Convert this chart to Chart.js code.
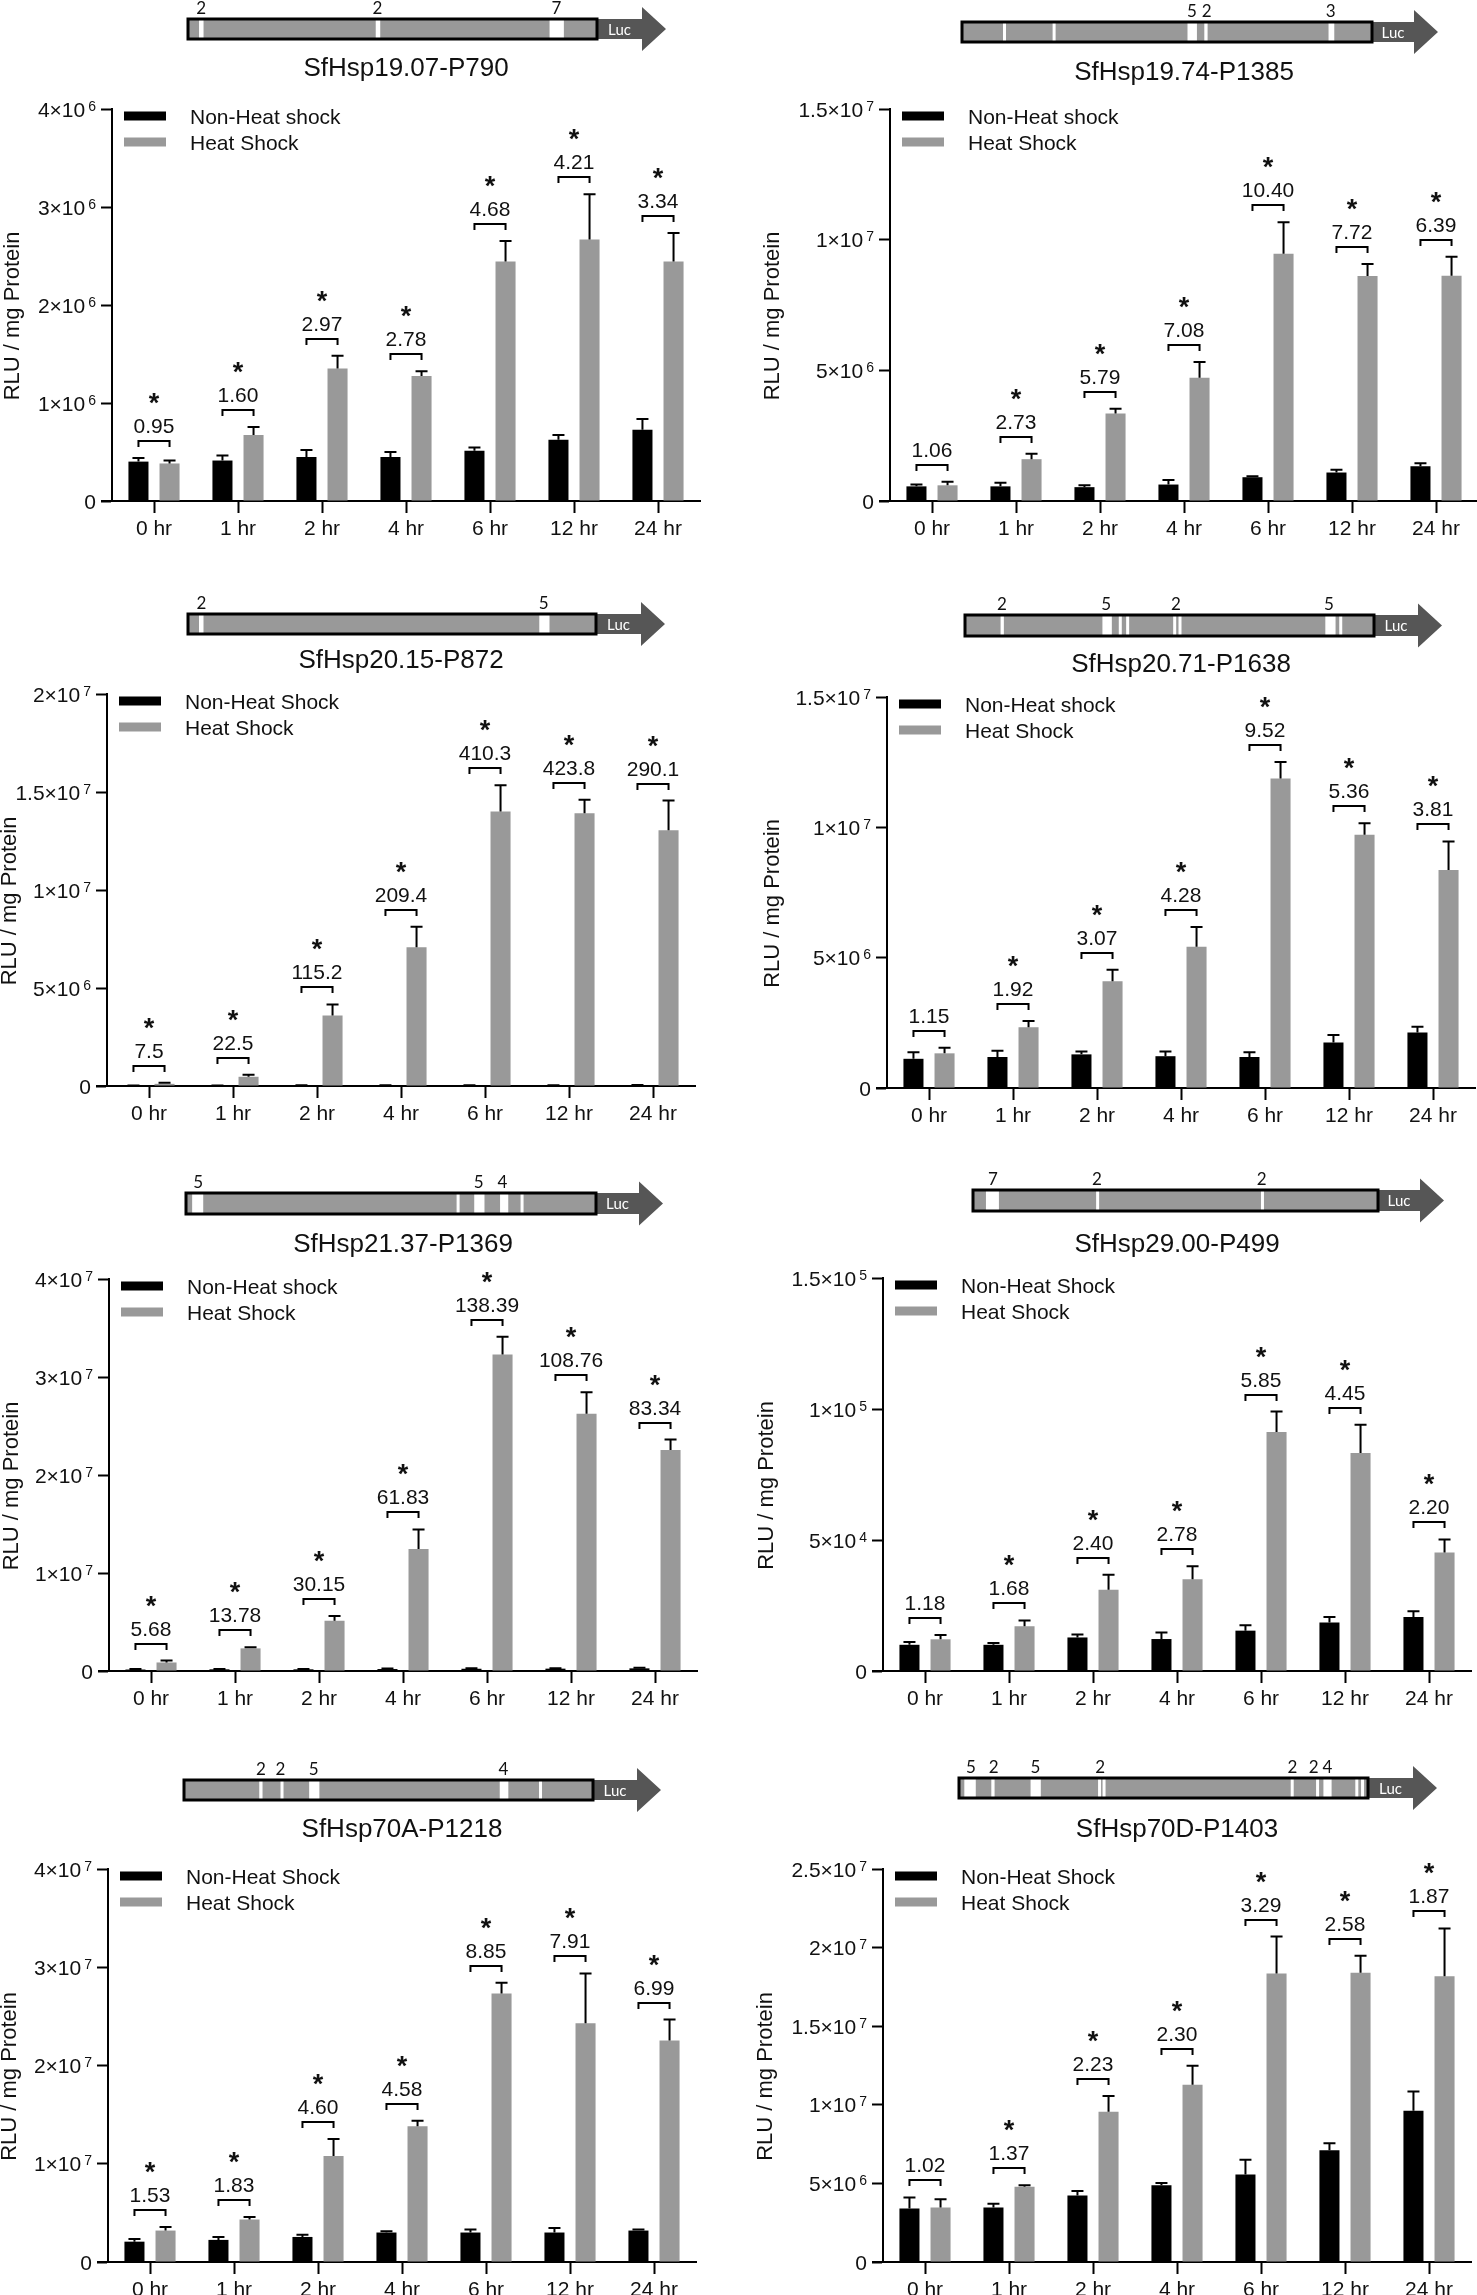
<!DOCTYPE html>
<html><head><meta charset="utf-8">
<script src="https://cdn.jsdelivr.net/npm/chart.js@4.4.1/dist/chart.umd.min.js"></script>
<style>
html,body{margin:0;padding:0;width:1477px;height:2295px;overflow:hidden;background:#fff;position:relative;}
canvas{position:absolute;}
</style></head><body>
<script>
// ---------------- DATA ----------------
const categories = ['0 hr','1 hr','2 hr','4 hr','6 hr','12 hr','24 hr'];
const yAxisTitle = 'RLU / mg Protein';
const seriesColors = ['#000000','#999999'];

// Panel 1
const p1Title = 'SfHsp19.07-P790';
const p1Legend = ['Non-Heat shock','Heat Shock'];
const p1Non = [402e3,413e3,450e3,450e3,513e3,625e3,726e3];
const p1NonErr = [38e3,52e3,70e3,50e3,34e3,48e3,111e3];
const p1Hs = [383e3,673e3,1351e3,1276e3,2445e3,2668e3,2445e3];
const p1HsErr = [30e3,82e3,130e3,49e3,208e3,461e3,290e3];
const p1Fold = ['0.95','1.60','2.97','2.78','4.68','4.21','3.34'];
const p1Sig = [1,1,1,1,1,1,1];
const p1Ticks = ['0','1×10^6','2×10^6','3×10^6','4×10^6'];
const p1Max = 4e6, p1Step = 1e6;
const p1Sites = [[0.027,0.038],[0.459,0.470],[0.884,0.919]];
const p1SiteLabels = [[0.032,'2'],[0.463,'2'],[0.901,'7']];

// Panel 2
const p2Title = 'SfHsp19.74-P1385';
const p2Legend = ['Non-Heat shock','Heat Shock'];
const p2Non = [0.56e6,0.56e6,0.53e6,0.63e6,0.91e6,1.09e6,1.33e6];
const p2NonErr = [0.07e6,0.14e6,0.07e6,0.17e6,0.04e6,0.11e6,0.11e6];
const p2Hs = [0.60e6,1.60e6,3.35e6,4.72e6,9.46e6,8.61e6,8.62e6];
const p2HsErr = [0.14e6,0.21e6,0.18e6,0.60e6,1.21e6,0.46e6,0.73e6];
const p2Fold = ['1.06','2.73','5.79','7.08','10.40','7.72','6.39'];
const p2Sig = [0,1,1,1,1,1,1];
const p2Ticks = ['0','5×10^6','1×10^7','1.5×10^7'];
const p2Max = 1.5e7, p2Step = 5e6;
const p2Sites = [[0.100,0.105],[0.221,0.226],[0.550,0.573],[0.591,0.599],[0.894,0.908]];
const p2SiteLabels = [[0.561,'5'],[0.597,'2'],[0.899,'3']];

// Panel 3
const p3Title = 'SfHsp20.15-P872';
const p3Legend = ['Non-Heat Shock','Heat Shock'];
const p3Non = [0.015e6,0.02e6,0.03e6,0.034e6,0.034e6,0.033e6,0.045e6];
const p3NonErr = [0.005e6,0.005e6,0.01e6,0.01e6,0.01e6,0.01e6,0.01e6];
const p3Hs = [0.11e6,0.47e6,3.60e6,7.08e6,14.0e6,13.92e6,13.05e6];
const p3HsErr = [0.06e6,0.11e6,0.56e6,1.05e6,1.34e6,0.68e6,1.51e6];
const p3Fold = ['7.5','22.5','115.2','209.4','410.3','423.8','290.1'];
const p3Sig = [1,1,1,1,1,1,1];
const p3Ticks = ['0','5×10^6','1×10^7','1.5×10^7','2×10^7'];
const p3Max = 2e7, p3Step = 5e6;
const p3Sites = [[0.027,0.038],[0.861,0.886]];
const p3SiteLabels = [[0.033,'2'],[0.872,'5']];

// Panel 4
const p4Title = 'SfHsp20.71-P1638';
const p4Legend = ['Non-Heat shock','Heat Shock'];
const p4Non = [1.12e6,1.19e6,1.29e6,1.22e6,1.19e6,1.75e6,2.13e6];
const p4NonErr = [0.25e6,0.24e6,0.11e6,0.18e6,0.18e6,0.28e6,0.22e6];
const p4Hs = [1.33e6,2.33e6,4.10e6,5.42e6,11.87e6,9.72e6,8.36e6];
const p4HsErr = [0.21e6,0.24e6,0.44e6,0.76e6,0.64e6,0.44e6,1.10e6];
const p4Fold = ['1.15','1.92','3.07','4.28','9.52','5.36','3.81'];
const p4Sig = [0,1,1,1,1,1,1];
const p4Ticks = ['0','5×10^6','1×10^7','1.5×10^7'];
const p4Max = 1.5e7, p4Step = 5e6;
const p4Sites = [[0.087,0.095],[0.336,0.359],[0.376,0.381],[0.394,0.400],[0.509,0.514],[0.522,0.527],[0.881,0.906],[0.915,0.921]];
const p4SiteLabels = [[0.090,'2'],[0.345,'5'],[0.516,'2'],[0.890,'5']];

// Panel 5
const p5Title = 'SfHsp21.37-P1369';
const p5Legend = ['Non-Heat shock','Heat Shock'];
const p5Non = [0.15e6,0.17e6,0.17e6,0.20e6,0.23e6,0.24e6,0.27e6];
const p5NonErr = [0.05e6,0.03e6,0.03e6,0.05e6,0.05e6,0.05e6,0.05e6];
const p5Hs = [0.87e6,2.31e6,5.12e6,12.44e6,32.3e6,26.24e6,22.56e6];
const p5HsErr = [0.19e6,0.12e6,0.49e6,2.01e6,1.8e6,2.2e6,1.06e6];
const p5Fold = ['5.68','13.78','30.15','61.83','138.39','108.76','83.34'];
const p5Sig = [1,1,1,1,1,1,1];
const p5Ticks = ['0','1×10^7','2×10^7','3×10^7','4×10^7'];
const p5Max = 4e7, p5Step = 1e7;
const p5Sites = [[0.015,0.042],[0.660,0.665],[0.703,0.728],[0.766,0.786],[0.816,0.821]];
const p5SiteLabels = [[0.030,'5'],[0.714,'5'],[0.772,'4']];

// Panel 6
const p6Title = 'SfHsp29.00-P499';
const p6Legend = ['Non-Heat Shock','Heat Shock'];
const p6Non = [1.0e4,1.0e4,1.28e4,1.22e4,1.54e4,1.85e4,2.06e4];
const p6NonErr = [0.11e4,0.07e4,0.11e4,0.25e4,0.21e4,0.21e4,0.22e4];
const p6Hs = [1.21e4,1.71e4,3.10e4,3.50e4,9.12e4,8.32e4,4.52e4];
const p6HsErr = [0.16e4,0.22e4,0.57e4,0.50e4,0.78e4,1.08e4,0.50e4];
const p6Fold = ['1.18','1.68','2.40','2.78','5.85','4.45','2.20'];
const p6Sig = [0,1,1,1,1,1,1];
const p6Ticks = ['0','5×10^4','1×10^5','1.5×10^5'];
const p6Max = 1.5e5, p6Step = 5e4;
const p6Sites = [[0.032,0.064],[0.304,0.310],[0.711,0.717]];
const p6SiteLabels = [[0.049,'7'],[0.306,'2'],[0.713,'2']];

// Panel 7
const p7Title = 'SfHsp70A-P1218';
const p7Legend = ['Non-Heat Shock','Heat Shock'];
const p7Non = [2.07e6,2.25e6,2.55e6,3.0e6,3.0e6,3.0e6,3.2e6];
const p7NonErr = [0.26e6,0.3e6,0.23e6,0.12e6,0.3e6,0.45e6,0.1e6];
const p7Hs = [3.2e6,4.32e6,10.78e6,13.82e6,27.34e6,24.3e6,22.54e6];
const p7HsErr = [0.37e6,0.26e6,1.73e6,0.56e6,1.09e6,5.07e6,2.14e6];
const p7Fold = ['1.53','1.83','4.60','4.58','8.85','7.91','6.99'];
const p7Sig = [1,1,1,1,1,1,1];
const p7Ticks = ['0','1×10^7','2×10^7','3×10^7','4×10^7'];
const p7Max = 4e7, p7Step = 1e7;
const p7Sites = [[0.184,0.192],[0.236,0.243],[0.306,0.331],[0.772,0.793],[0.868,0.873]];
const p7SiteLabels = [[0.188,'2'],[0.236,'2'],[0.317,'5'],[0.781,'4']];

// Panel 8
const p8Title = 'SfHsp70D-P1403';
const p8Legend = ['Non-Heat Shock','Heat Shock'];
const p8Non = [3.40e6,3.47e6,4.23e6,4.88e6,5.56e6,7.11e6,9.62e6];
const p8NonErr = [0.71e6,0.24e6,0.28e6,0.14e6,0.94e6,0.45e6,1.23e6];
const p8Hs = [3.47e6,4.79e6,9.55e6,11.27e6,18.36e6,18.40e6,18.17e6];
const p8HsErr = [0.52e6,0.09e6,1.01e6,1.22e6,2.34e6,1.08e6,3.05e6];
const p8Fold = ['1.02','1.37','2.23','2.30','3.29','2.58','1.87'];
const p8Sig = [0,1,1,1,1,1,1];
const p8Ticks = ['0','5×10^6','1×10^7','1.5×10^7','2×10^7','2.5×10^7'];
const p8Max = 2.5e7, p8Step = 5e6;
const p8Sites = [[0.013,0.041],[0.079,0.087],[0.175,0.200],[0.340,0.344],[0.351,0.356],[0.811,0.817],[0.873,0.880],[0.891,0.911],[0.969,0.973],[0.983,0.987]];
const p8SiteLabels = [[0.029,'5'],[0.085,'2'],[0.187,'5'],[0.345,'2'],[0.815,'2'],[0.867,'2'],[0.901,'4']];

// ---------------- LAYOUT (page pixels) ----------------
const layouts = [
  {colX:0,   axisX:112, top:109,  zero:501,  bx1:188, bx2:597,  by1:19,   by2:39,   tip:666,  titleY:69,   yTitleX:13},
  {colX:738, axisX:890, top:109,  zero:501,  bx1:962, bx2:1372, by1:22,   by2:42,   tip:1438, titleY:73,   yTitleX:773},
  {colX:0,   axisX:107, top:694,  zero:1086, bx1:188, bx2:596,  by1:614,  by2:634,  tip:665,  titleY:661,  yTitleX:10},
  {colX:738, axisX:887, top:697,  zero:1088, bx1:965, bx2:1374, by1:615,  by2:636,  tip:1442, titleY:665,  yTitleX:773},
  {colX:0,   axisX:109, top:1279, zero:1671, bx1:186, bx2:596,  by1:1193, by2:1214, tip:663,  titleY:1245, yTitleX:12},
  {colX:738, axisX:883, top:1278, zero:1671, bx1:973, bx2:1378, by1:1190, by2:1211, tip:1444, titleY:1245, yTitleX:767},
  {colX:0,   axisX:108, top:1869, zero:2262, bx1:184, bx2:593,  by1:1780, by2:1800, tip:661,  titleY:1830, yTitleX:10},
  {colX:738, axisX:883, top:1869, zero:2262, bx1:959, bx2:1368, by1:1778, by2:1798, tip:1437, titleY:1830, yTitleX:766}
];

const panels = [
  {title:p1Title,legend:p1Legend,non:p1Non,nonErr:p1NonErr,hs:p1Hs,hsErr:p1HsErr,fold:p1Fold,sig:p1Sig,ticks:p1Ticks,max:p1Max,step:p1Step,sites:p1Sites,siteLabels:p1SiteLabels},
  {title:p2Title,legend:p2Legend,non:p2Non,nonErr:p2NonErr,hs:p2Hs,hsErr:p2HsErr,fold:p2Fold,sig:p2Sig,ticks:p2Ticks,max:p2Max,step:p2Step,sites:p2Sites,siteLabels:p2SiteLabels},
  {title:p3Title,legend:p3Legend,non:p3Non,nonErr:p3NonErr,hs:p3Hs,hsErr:p3HsErr,fold:p3Fold,sig:p3Sig,ticks:p3Ticks,max:p3Max,step:p3Step,sites:p3Sites,siteLabels:p3SiteLabels},
  {title:p4Title,legend:p4Legend,non:p4Non,nonErr:p4NonErr,hs:p4Hs,hsErr:p4HsErr,fold:p4Fold,sig:p4Sig,ticks:p4Ticks,max:p4Max,step:p4Step,sites:p4Sites,siteLabels:p4SiteLabels},
  {title:p5Title,legend:p5Legend,non:p5Non,nonErr:p5NonErr,hs:p5Hs,hsErr:p5HsErr,fold:p5Fold,sig:p5Sig,ticks:p5Ticks,max:p5Max,step:p5Step,sites:p5Sites,siteLabels:p5SiteLabels},
  {title:p6Title,legend:p6Legend,non:p6Non,nonErr:p6NonErr,hs:p6Hs,hsErr:p6HsErr,fold:p6Fold,sig:p6Sig,ticks:p6Ticks,max:p6Max,step:p6Step,sites:p6Sites,siteLabels:p6SiteLabels},
  {title:p7Title,legend:p7Legend,non:p7Non,nonErr:p7NonErr,hs:p7Hs,hsErr:p7HsErr,fold:p7Fold,sig:p7Sig,ticks:p7Ticks,max:p7Max,step:p7Step,sites:p7Sites,siteLabels:p7SiteLabels},
  {title:p8Title,legend:p8Legend,non:p8Non,nonErr:p8NonErr,hs:p8Hs,hsErr:p8HsErr,fold:p8Fold,sig:p8Sig,ticks:p8Ticks,max:p8Max,step:p8Step,sites:p8Sites,siteLabels:p8SiteLabels}
];

const FONT = "'Liberation Sans', Arial, Helvetica, sans-serif";
const DFONT = "Lato, 'Open Sans', sans-serif";
const PLOT_W = 588;
const CW = 745;

function buildPanel(p, L) {
  const T = L.by1 - 26;
  const H = L.zero - T + 62;
  const cv = document.createElement('canvas');
  cv.width = CW; cv.height = H;
  cv.style.left = L.colX + 'px'; cv.style.top = T + 'px';
  cv.style.width = CW + 'px'; cv.style.height = H + 'px';
  document.body.appendChild(cv);
  const axisRel = L.axisX - L.colX;

  const decor = {
    id: 'decor',
    afterDatasetsDraw(chart) {
      const ctx = chart.ctx;
      const ys = chart.scales.y;
      const ca = chart.chartArea;
      const m0 = chart.getDatasetMeta(0), m1 = chart.getDatasetMeta(1);
      ctx.save();
      ctx.strokeStyle = '#000'; ctx.lineWidth = 2; ctx.lineCap = 'butt';
      // error bars
      [[m0, p.non, p.nonErr], [m1, p.hs, p.hsErr]].forEach(([meta, val, err]) => {
        meta.data.forEach((bar, i) => {
          const yTop = ys.getPixelForValue(val[i] + err[i]);
          ctx.beginPath();
          ctx.moveTo(bar.x, bar.y); ctx.lineTo(bar.x, yTop);
          ctx.moveTo(bar.x - 6, yTop); ctx.lineTo(bar.x + 6, yTop);
          ctx.stroke();
        });
      });
      // x axis extension to the left
      ctx.beginPath(); ctx.moveTo(ca.left - 11, ca.bottom); ctx.lineTo(ca.left, ca.bottom); ctx.stroke();
      // y tick labels with superscript exponents
      ctx.fillStyle = '#111'; ctx.textAlign = 'right'; ctx.textBaseline = 'alphabetic';
      ys.ticks.forEach((t, i) => {
        const lab = p.ticks[i];
        if (lab === undefined) return;
        const y = ys.getPixelForValue(t.value);
        const xr = ca.left - 16;
        const parts = lab.split('^');
        const baseY = y + 7.5;
        if (parts.length === 2) {
          ctx.font = '14px ' + FONT;
          ctx.fillText(parts[1], xr, baseY - 6);
          const ew = ctx.measureText(parts[1]).width;
          ctx.font = '21px ' + FONT;
          ctx.fillText(parts[0], xr - ew - 3, baseY);
        } else {
          ctx.font = '21px ' + FONT;
          ctx.fillText(parts[0], xr, baseY);
        }
      });
      // y axis title
      ctx.save();
      ctx.translate(L.yTitleX - L.colX, (ca.top + ca.bottom) / 2 + 11);
      ctx.rotate(-Math.PI / 2);
      ctx.font = '22px ' + FONT; ctx.textAlign = 'center'; ctx.textBaseline = 'middle';
      ctx.fillText(yAxisTitle, 0, 0);
      ctx.restore();
      // brackets, fold values, asterisks
      ctx.fillStyle = '#111';
      categories.forEach((c, i) => {
        const b0 = m0.data[i], b1 = m1.data[i];
        const topVal = Math.max(p.non[i] + p.nonErr[i], p.hs[i] + p.hsErr[i]);
        const yb = Math.round(ys.getPixelForValue(topVal) - 17);
        ctx.beginPath();
        ctx.moveTo(b0.x, yb + 6); ctx.lineTo(b0.x, yb); ctx.lineTo(b1.x, yb); ctx.lineTo(b1.x, yb + 6);
        ctx.stroke();
        const cx = (b0.x + b1.x) / 2;
        ctx.font = '21px ' + FONT; ctx.textAlign = 'center'; ctx.textBaseline = 'middle';
        ctx.fillText(p.fold[i], cx, yb - 14);
        if (p.sig[i]) {
          ctx.font = 'bold 27px ' + FONT; ctx.textBaseline = 'alphabetic';
          ctx.fillText('*', cx, yb - 45 + 16);
        }
      });
      // legend
      chart.data.datasets.forEach((ds, k) => {
        const yc = ca.top + 7 + 26 * k;
        ctx.fillStyle = ds.backgroundColor;
        ctx.fillRect(ca.left + 12, yc - 4.5, 42, 9);
        ctx.fillStyle = '#111';
        ctx.font = '21px ' + FONT; ctx.textAlign = 'left'; ctx.textBaseline = 'middle';
        ctx.fillText(ds.label, ca.left + 78, yc + 2);
      });
      // promoter diagram
      const x1 = L.bx1 - L.colX, x2 = L.bx2 - L.colX, tip = L.tip - L.colX;
      const y1 = L.by1 - T, y2 = L.by2 - T, yc = (y1 + y2) / 2;
      const headX = tip - 24;
      ctx.fillStyle = '#565656';
      ctx.beginPath();
      ctx.moveTo(x2, y1); ctx.lineTo(headX, y1); ctx.lineTo(headX, yc - 22); ctx.lineTo(tip, yc);
      ctx.lineTo(headX, yc + 22); ctx.lineTo(headX, y2); ctx.lineTo(x2, y2); ctx.closePath(); ctx.fill();
      ctx.fillStyle = '#999999';
      ctx.fillRect(x1, y1, x2 - x1, y2 - y1);
      ctx.fillStyle = '#ffffff';
      p.sites.forEach(([a, b]) => {
        const w = Math.max((b - a) * (x2 - x1), 3);
        ctx.fillRect(x1 + a * (x2 - x1), y1, w, y2 - y1);
      });
      ctx.strokeStyle = '#000'; ctx.lineWidth = 3;
      ctx.strokeRect(x1, y1, x2 - x1, y2 - y1);
      ctx.fillStyle = '#ffffff'; ctx.font = '15px ' + DFONT; ctx.textAlign = 'center'; ctx.textBaseline = 'middle';
      ctx.fillText('Luc', (x2 + headX) / 2, yc + 1);
      ctx.fillStyle = '#111'; ctx.font = '17px ' + DFONT;
      p.siteLabels.forEach(([f, t]) => ctx.fillText(t, x1 + f * (x2 - x1), y1 - 10));
      // title
      ctx.font = '26px ' + FONT;
      ctx.fillText(p.title, ca.left + PLOT_W / 2, L.titleY - T);
      ctx.restore();
    }
  };

  new Chart(cv.getContext('2d'), {
    type: 'bar',
    data: {
      labels: categories,
      datasets: [
        {label: p.legend[0], data: p.non, backgroundColor: seriesColors[0], borderWidth: 0},
        {label: p.legend[1], data: p.hs, backgroundColor: seriesColors[1], borderWidth: 0}
      ]
    },
    options: {
      responsive: false, animation: false, devicePixelRatio: 1,
      datasets: {bar: {barPercentage: 0.645, categoryPercentage: 0.74}},
      layout: {padding: {left: 0, top: L.top - T, right: CW - axisRel - PLOT_W, bottom: 2}},
      plugins: {legend: {display: false}, tooltip: {enabled: false}, title: {display: false}},
      scales: {
        x: {
          offset: true,
          afterFit(s) { s.height = 60; },
          grid: {offset: false, drawOnChartArea: false, drawTicks: true, tickLength: 12, tickWidth: 2, tickColor: '#000'},
          border: {display: true, color: '#000', width: 2},
          ticks: {color: '#111', font: {family: FONT, size: 21}, padding: 4, maxRotation: 0, autoSkip: false}
        },
        y: {
          min: 0, max: p.max,
          afterFit(s) { s.width = axisRel; },
          grid: {drawOnChartArea: false, drawTicks: true, tickLength: 11, tickWidth: 2, tickColor: '#000'},
          border: {display: true, color: '#000', width: 2},
          ticks: {stepSize: p.step, color: 'rgba(0,0,0,0)', font: {family: FONT, size: 19}, padding: 4,
                  callback: (v, i) => p.ticks[i]}
        }
      }
    },
    plugins: [decor]
  });
}

panels.forEach((p, i) => buildPanel(p, layouts[i]));
</script>
</body></html>
